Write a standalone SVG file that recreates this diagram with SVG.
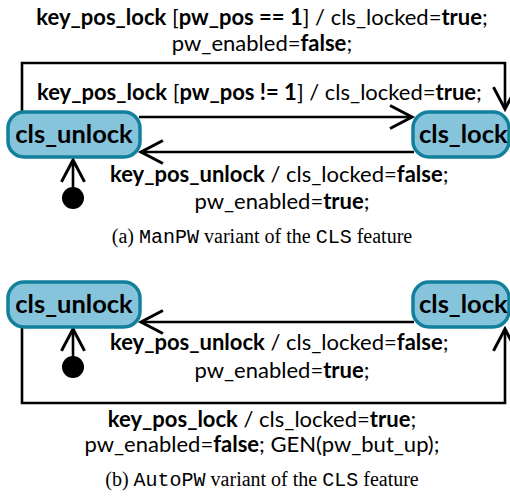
<svg xmlns="http://www.w3.org/2000/svg" width="510" height="499" viewBox="0 0 510 499">
<defs>
<marker id="arr" markerUnits="userSpaceOnUse" markerWidth="30" markerHeight="30" viewBox="-22 -12 26 24" refX="0" refY="0" orient="auto" overflow="visible">
<path d="M-19,-10 L0,0 L-19,10" fill="none" stroke="#000" stroke-width="2.6"/>
</marker>
<style>
.st{fill:#86c4dc;stroke:#12809b;stroke-width:3.5}
.nt{font-family:Lato,"Open Sans",sans-serif;font-weight:bold;font-size:25.5px;fill:#000}
.lb{font-family:Lato,"Open Sans",sans-serif;font-size:22px;fill:#000}
.b{font-weight:bold}
.cap{font-family:"Liberation Serif",serif;font-size:20px;fill:#000}
.mono{font-family:"Liberation Mono",monospace}
.ln{fill:none;stroke:#000;stroke-width:2.6}
</style>
</defs>
<rect width="510" height="499" fill="#fff"/>

<g id="connectors">
<path class="ln" d="M22,111 V63 H505 V109" marker-end="url(#arr)"/>
<path class="ln" d="M139,117 H412" marker-end="url(#arr)"/>
<path class="ln" d="M414,152 H141" marker-end="url(#arr)"/>
<path class="ln" d="M73,188 V160" marker-end="url(#arr)"/>
<path class="ln" d="M414,322 H141" marker-end="url(#arr)"/>
<path class="ln" d="M73,357 V329" marker-end="url(#arr)"/>
<path class="ln" d="M22,328 V403 H505 V329" marker-end="url(#arr)"/>
</g>

<g id="a_unlock">
<rect class="st" x="8" y="112" width="132" height="45" rx="16"/>
<text class="nt" x="74" y="143" text-anchor="middle">cls_unlock</text>
</g>
<g id="a_lock">
<rect class="st" x="413" y="112" width="96" height="45" rx="16"/>
<text class="nt" x="419" y="143">cls_lock</text>
</g>
<g id="a_init">
<circle cx="73" cy="198" r="11" fill="#000"/>
</g>

<g id="b_unlock">
<rect class="st" x="8" y="282" width="132" height="45" rx="16"/>
<text class="nt" x="74" y="313" text-anchor="middle">cls_unlock</text>
</g>
<g id="b_lock">
<rect class="st" x="413" y="282" width="96" height="45" rx="16"/>
<text class="nt" x="419" y="313">cls_lock</text>
</g>
<g id="b_init">
<circle cx="73" cy="367" r="11" fill="#000"/>
</g>

<g id="labels">
<text class="lb" x="262" y="25" text-anchor="middle"><tspan class="b">key_pos_lock</tspan> [<tspan class="b">pw_pos == 1</tspan>] / cls_locked=<tspan class="b">true</tspan>;</text>
<text class="lb" x="262" y="51" text-anchor="middle">pw_enabled=<tspan class="b">false</tspan>;</text>
<text class="lb" x="37" y="100"><tspan class="b">key_pos_lock</tspan> [<tspan class="b">pw_pos != 1</tspan>] / cls_locked=<tspan class="b">true</tspan>;</text>
<text class="lb" x="110" y="182"><tspan class="b">key_pos_unlock</tspan> / cls_locked=<tspan class="b">false</tspan>;</text>
<text class="lb" x="282" y="209" text-anchor="middle">pw_enabled=<tspan class="b">true</tspan>;</text>
<text class="cap" x="262" y="243" text-anchor="middle">(a) <tspan class="mono">ManPW</tspan> variant of the <tspan class="mono">CLS</tspan> feature</text>

<text class="lb" x="110" y="350"><tspan class="b">key_pos_unlock</tspan> / cls_locked=<tspan class="b">false</tspan>;</text>
<text class="lb" x="282" y="378" text-anchor="middle">pw_enabled=<tspan class="b">true</tspan>;</text>
<text class="lb" x="262" y="427" text-anchor="middle"><tspan class="b">key_pos_lock</tspan> / cls_locked=<tspan class="b">true</tspan>;</text>
<text class="lb" x="262" y="452" text-anchor="middle">pw_enabled=<tspan class="b">false</tspan>; GEN(pw_but_up);</text>
<text class="cap" x="262" y="486" text-anchor="middle">(b) <tspan class="mono">AutoPW</tspan> variant of the <tspan class="mono">CLS</tspan> feature</text>
</g>
</svg>
